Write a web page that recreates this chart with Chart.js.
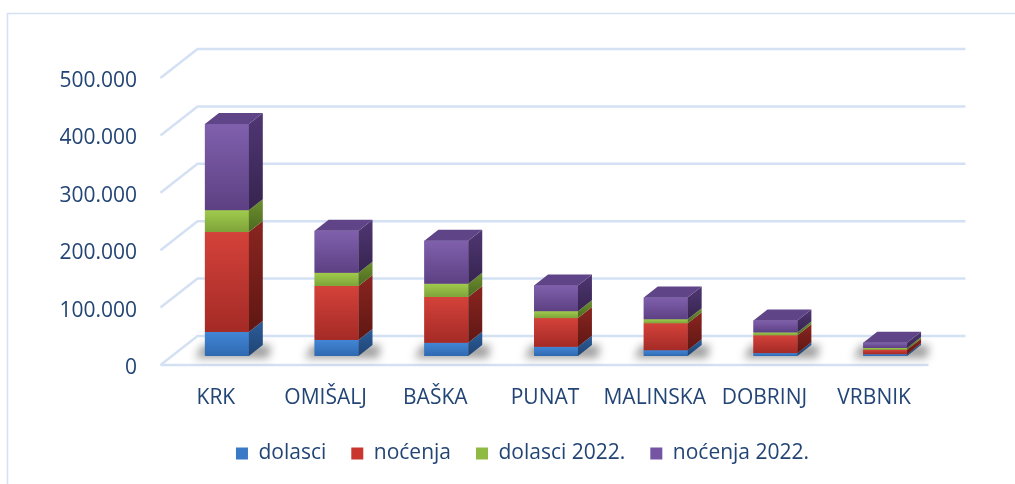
<!DOCTYPE html>
<html>
<head>
<meta charset="utf-8">
<script src="https://cdn.jsdelivr.net/npm/chart.js@4/dist/chart.umd.min.js"></script>
<style>
  html, body { margin: 0; padding: 0; background: #ffffff; }
  canvas { display: block; }
</style>
</head>
<body>
<canvas id="turisti" width="1015" height="484"></canvas>
<script>
// podaci po mjestima (očitano s grafikona)
var mjesta = ['KRK', 'OMIŠALJ', 'BAŠKA', 'PUNAT', 'MALINSKA', 'DOBRINJ', 'VRBNIK'];
var dolasci = [42000, 28000, 23000, 16000, 10000, 5000, 3000];
var nocenja = [174000, 94000, 80000, 50000, 47000, 31000, 8000];
var dolasci2022 = [38000, 23000, 23000, 12000, 7000, 5000, 3000];
var nocenja2022 = [150000, 73000, 75000, 45000, 38000, 21000, 9000];
var yTicks = [0, 100000, 200000, 300000, 400000, 500000];

var boja = {
    dolasci:     { legenda: '#3a79c6', lice: ['#4286d6', '#2f69b0'], bok: ['#2d5d99', '#1f4474'], vrh: '#3f74b8' },
    nocenja:     { legenda: '#c9362f', lice: ['#d4423a', '#a42a26'], bok: ['#8a2520', '#5f1713'], vrh: '#b53a34' },
    dolasci2022: { legenda: '#8fba43', lice: ['#a0cb4c', '#7ea33a'], bok: ['#6d8f2f', '#4c6a20'], vrh: '#88ad40' },
    nocenja2022: { legenda: '#7454a3', lice: ['#8060ad', '#5d4083'], bok: ['#4f3773', '#36244f'], vrh: '#5f4588' }
};
var kljucevi = ['dolasci', 'nocenja', 'dolasci2022', 'nocenja2022'];

var tekstBoja = '#234575';
var linijaBoja = '#d4e1f3';

// pomaci za 3D izgled (u odnosu na prednju ravninu stupaca)
var dubina = { dx: 14, dy: -11 };
var zid = { dx: 25.5, dy: -20 };
var prednji = { dx: -11.5, dy: 9 };

function formatBroj(v) {
    return String(v).replace(/\B(?=(\d{3})+(?!\d))/g, '.');
}

var treciD = {
    id: 'treciD',
    beforeDraw(chart) {
        const ctx = chart.ctx;
        ctx.save();
        ctx.strokeStyle = linijaBoja;
        ctx.lineWidth = 1.5;
        ctx.beginPath();
        ctx.moveTo(7.5, chart.height);
        ctx.lineTo(7.5, 13.5);
        ctx.lineTo(chart.width, 13.5);
        ctx.stroke();
        ctx.restore();
    },
    beforeDatasetsDraw(chart) {
        const ctx = chart.ctx;
        const a = chart.chartArea;
        const y = chart.scales.y;
        ctx.save();
        ctx.strokeStyle = linijaBoja;
        ctx.lineWidth = 2.5;
        yTicks.forEach(function (v) {
            const py = y.getPixelForValue(v);
            ctx.beginPath();
            ctx.moveTo(a.left + prednji.dx, py + prednji.dy);
            ctx.lineTo(a.left + zid.dx, py + zid.dy);
            ctx.lineTo(a.right + zid.dx, py + zid.dy);
            ctx.stroke();
        });
        const p0 = y.getPixelForValue(0);
        ctx.beginPath();
        ctx.moveTo(a.left + prednji.dx, p0 + prednji.dy);
        ctx.lineTo(a.right + prednji.dx, p0 + prednji.dy);
        ctx.stroke();

        // sjene na podu
        ctx.filter = 'blur(4px)';
        ctx.fillStyle = 'rgba(0,0,0,0.38)';
        chart.getDatasetMeta(0).data.forEach(function (bar) {
            const l = bar.x - bar.width / 2, r = bar.x + bar.width / 2;
            ctx.beginPath();
            ctx.moveTo(l - 10, bar.base + 2);
            ctx.lineTo(r + dubina.dx + 6, bar.base + 2);
            ctx.lineTo(r + dubina.dx + 8, bar.base + dubina.dy);
            ctx.lineTo(l - 2, bar.base + dubina.dy);
            ctx.closePath();
            ctx.fill();
        });
        ctx.restore();
    },
    afterDatasetsDraw(chart) {
        const ctx = chart.ctx;
        const n = chart.data.datasets.length;
        ctx.save();
        chart.data.datasets.forEach(function (ds, i) {
            const c = boja[kljucevi[i]];
            chart.getDatasetMeta(i).data.forEach(function (bar) {
                const l = bar.x - bar.width / 2, r = bar.x + bar.width / 2;
                const top = Math.min(bar.y, bar.base), bot = Math.max(bar.y, bar.base);
                if (bot - top < 0.3) return;
                // prednja strana
                let g = ctx.createLinearGradient(0, top, 0, bot);
                g.addColorStop(0, c.lice[0]);
                g.addColorStop(1, c.lice[1]);
                ctx.fillStyle = g;
                ctx.fillRect(l, top, r - l, bot - top);
                // bočna strana
                g = ctx.createLinearGradient(0, top + dubina.dy, 0, bot);
                g.addColorStop(0, c.bok[0]);
                g.addColorStop(1, c.bok[1]);
                ctx.fillStyle = g;
                ctx.beginPath();
                ctx.moveTo(r, bot);
                ctx.lineTo(r + dubina.dx, bot + dubina.dy);
                ctx.lineTo(r + dubina.dx, top + dubina.dy);
                ctx.lineTo(r, top);
                ctx.closePath();
                ctx.fill();
                // gornja strana
                if (i === n - 1) {
                    ctx.fillStyle = c.vrh;
                    ctx.beginPath();
                    ctx.moveTo(l, top);
                    ctx.lineTo(l + dubina.dx, top + dubina.dy);
                    ctx.lineTo(r + dubina.dx, top + dubina.dy);
                    ctx.lineTo(r, top);
                    ctx.closePath();
                    ctx.fill();
                }
            });
        });
        ctx.restore();
    }
};

var ctx = document.getElementById('turisti').getContext('2d');
var chart = new Chart(ctx, {
    type: 'bar',
    data: {
        labels: mjesta,
        datasets: [
            { label: 'dolasci', data: dolasci, backgroundColor: boja.dolasci.legenda },
            { label: 'noćenja', data: nocenja, backgroundColor: boja.nocenja.legenda },
            { label: 'dolasci 2022.', data: dolasci2022, backgroundColor: boja.dolasci2022.legenda },
            { label: 'noćenja 2022.', data: nocenja2022, backgroundColor: boja.nocenja2022.legenda }
        ]
    },
    options: {
        responsive: false,
        animation: false,
        devicePixelRatio: 1,
        categoryPercentage: 1,
        barPercentage: 0.4,
        borderWidth: 0,
        layout: { padding: { top: 69, left: 30, right: 0, bottom: 10 } },
        scales: {
            x: {
                stacked: true,
                grid: { display: false, drawTicks: false },
                border: { display: false },
                ticks: {
                    color: tekstBoja,
                    font: { family: 'Open Sans', size: 21 },
                    padding: 29,
                    labelOffset: -11,
                    maxRotation: 0,
                    autoSkip: false
                },
                afterFit: function (s) { s.height = 62; }
            },
            y: {
                stacked: true,
                min: 0,
                max: 500000,
                grid: { display: false, drawTicks: false },
                border: { display: false },
                ticks: {
                    stepSize: 100000,
                    color: tekstBoja,
                    font: { family: 'Open Sans', size: 21 },
                    padding: 35,
                    labelOffset: 12,
                    callback: function (v) { return formatBroj(v); }
                },
                afterFit: function (s) { s.width = 142; }
            },
            // prazni prostor desno od područja grafa
            desno: {
                position: 'right',
                display: true,
                grid: { display: false, drawTicks: false },
                border: { display: false },
                ticks: { display: false },
                afterFit: function (s) { s.width = 75; }
            }
        },
        plugins: {
            tooltip: { enabled: false },
            legend: {
                position: 'bottom',
                labels: {
                    boxWidth: 12,
                    boxHeight: 12,
                    padding: 25,
                    color: tekstBoja,
                    font: { family: 'Open Sans', size: 21 }
                }
            }
        }
    },
    plugins: [treciD]
});
</script>
</body>
</html>
